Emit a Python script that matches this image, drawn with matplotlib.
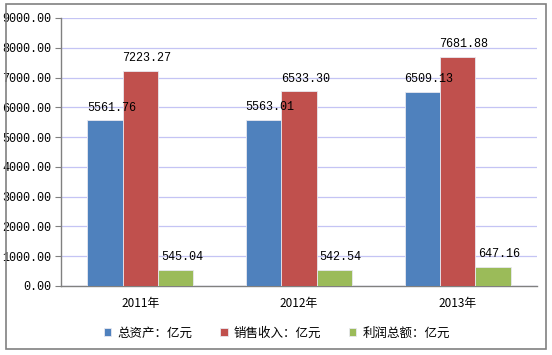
import numpy as np
import matplotlib
matplotlib.use('Agg')
import matplotlib.pyplot as plt
from matplotlib.patches import Rectangle

years = ['2011年', '2012年', '2013年']
series_names = ['总资产：亿元', '销售收入：亿元', '利润总额：亿元']
total_assets = [5561.76, 5563.01, 6509.13]
sales_revenue = [7223.27, 6533.30, 7681.88]
total_profit = [545.04, 542.54, 647.16]
yticks = [0, 1000, 2000, 3000, 4000, 5000, 6000, 7000, 8000, 9000]

colors = ['#4f81bd', '#c0504d', '#9bbb59']
cjk = ['Noto Sans CJK SC', 'DejaVu Sans']
mono = ['Liberation Mono', 'DejaVu Sans Mono']

fig = plt.figure(figsize=(5.52, 3.55), dpi=100)
fig.patches.append(Rectangle((6 / 552, 1 - 349 / 355), 540 / 552, 345 / 355,
                             transform=fig.transFigure, fill=False,
                             edgecolor='#808080', linewidth=1.2))
ax = fig.add_axes([61 / 552, 1 - 286 / 355, 476 / 552, 268 / 355])

x = np.arange(len(years))
w = 0.222
offsets = [-w, 0, w]
for vals, name, c, off in zip([total_assets, sales_revenue, total_profit],
                              series_names, colors, offsets):
    bars = ax.bar(x + off, vals, width=w, color=c, edgecolor='#e8e8f0',
                  linewidth=0.6, label=name, zorder=3)
    for b, v in zip(bars, vals):
        ax.text(b.get_x() + b.get_width() / 2 + 0.04, v + 230, f'{v:.2f}',
                ha='center', va='bottom', fontsize=8.5, family=mono, zorder=4)

ax.set_xlim(-0.5, 2.5)
ax.set_ylim(0, 9000)
ax.set_yticks(yticks)
ax.set_yticklabels([f'{t:.2f}' for t in yticks], family=mono, fontsize=8.5)
ax.set_xticks(x)
ax.set_xticklabels(years, family=cjk, fontsize=8.5)
ax.tick_params(axis='x', length=0, pad=8)
ax.tick_params(axis='y', length=4, direction='out', color='#808080', pad=3)
ax.grid(axis='y', color='#c4c4f4', linewidth=0.9, zorder=0)
for s in ['top', 'right']:
    ax.spines[s].set_visible(False)
for s in ['left', 'bottom']:
    ax.spines[s].set_color('#808080')
    ax.spines[s].set_linewidth(1.0)

leg = fig.legend(loc='center', bbox_to_anchor=(277 / 552, 1 - 333 / 355), ncol=3,
                 frameon=False, prop={'family': cjk, 'size': 9},
                 handlelength=0.6, handleheight=0.6, columnspacing=2.2,
                 handletextpad=0.5)

fig.savefig('out.png', dpi=100)
